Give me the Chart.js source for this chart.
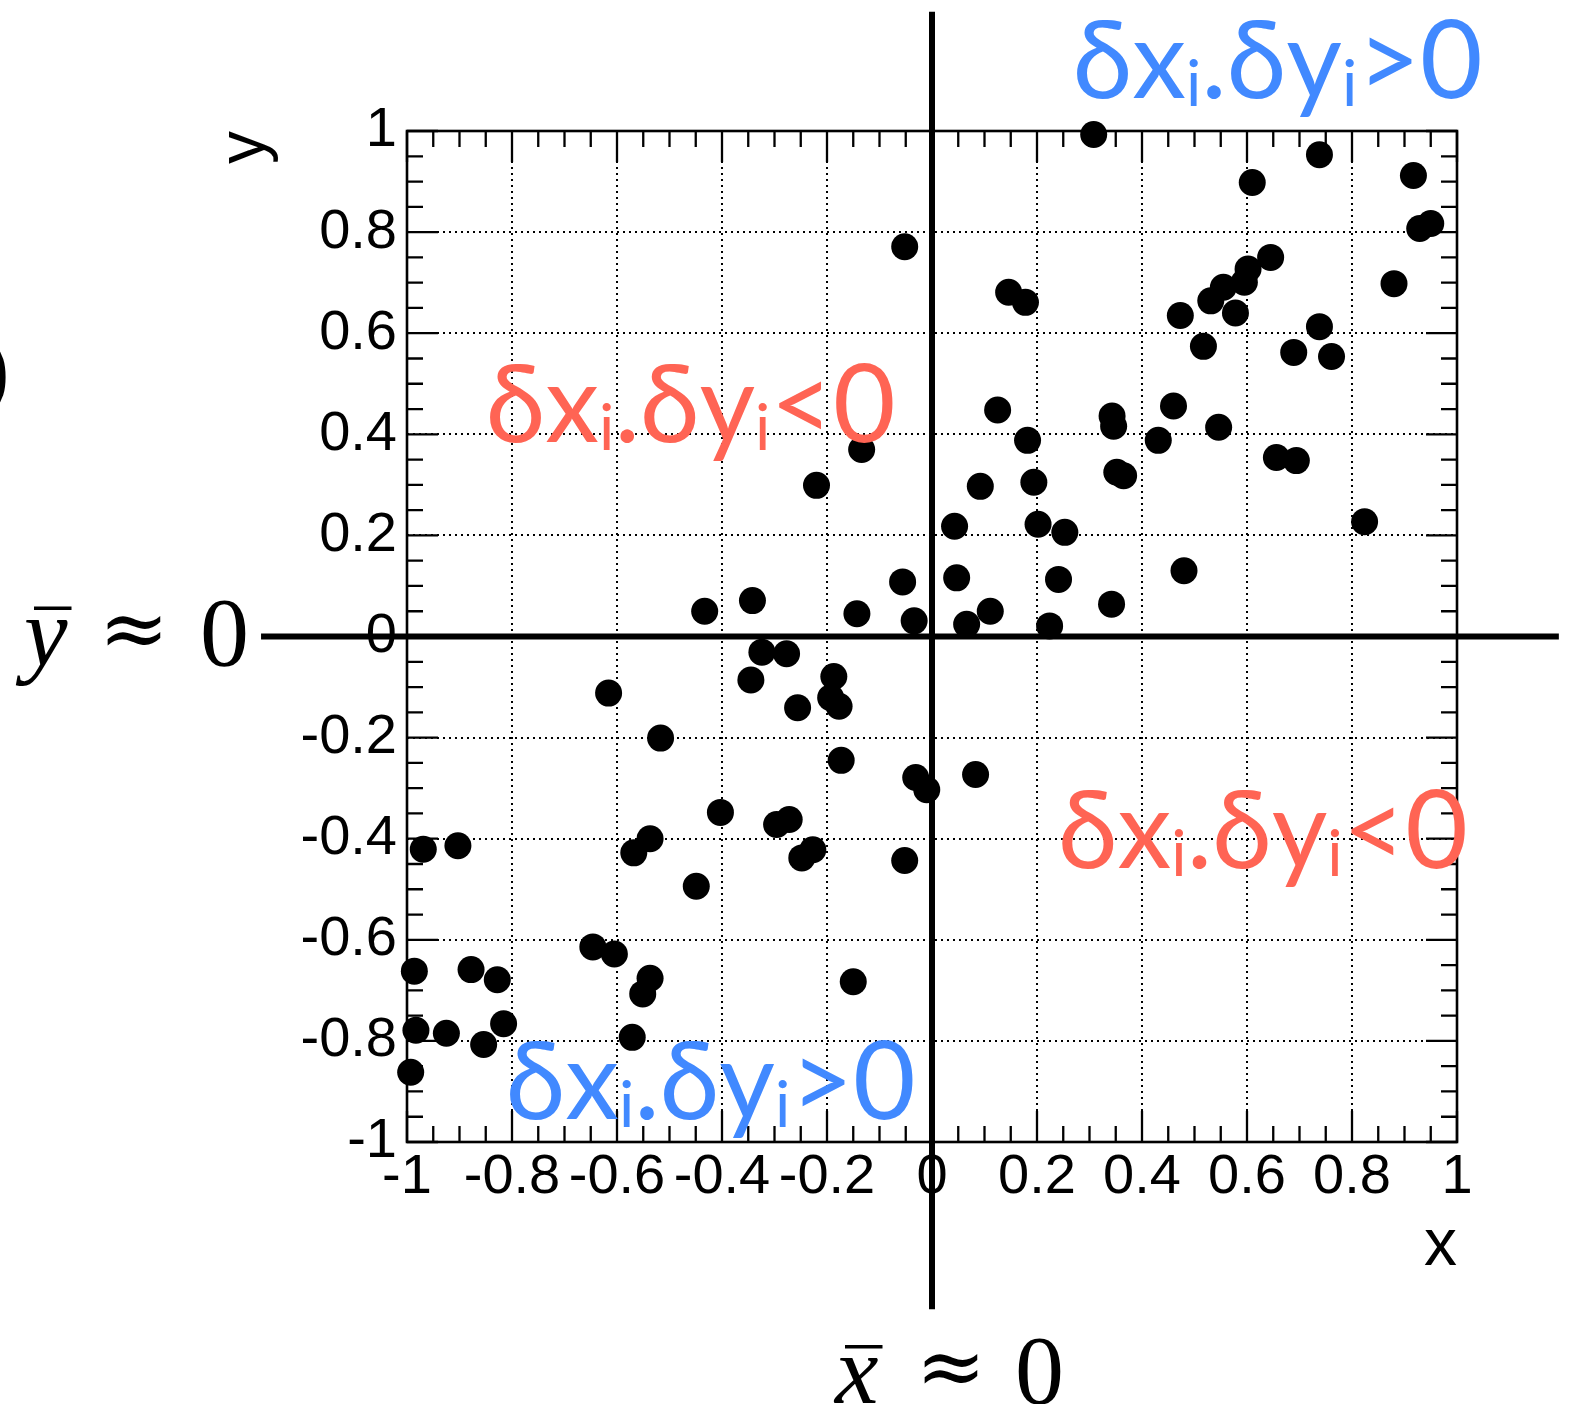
<!DOCTYPE html>
<html>
<head>
<meta charset="utf-8">
<script src="https://cdn.jsdelivr.net/npm/chart.js@4.4.1/dist/chart.umd.min.js"></script>
<style>
    html, body { margin: 0; padding: 0; background: #fff; }
    #wrap { width: 1574px; height: 1404px; position: relative; }
</style>
</head>
<body>
<div id="wrap"><canvas id="scatterChart" width="1574" height="1404"></canvas></div>
<script>
// ==================== DONNEES ====================
const pointX = [
    0.308, 0.738, 0.610, 0.917, 0.929, 0.950, 0.645, 0.602, 0.595, 0.555,
    0.531, 0.578, 0.473, 0.517, 0.738, 0.689, 0.761, 0.880, 0.146, 0.178,
    0.125, 0.182, 0.343, 0.346, 0.352, 0.365, 0.092, 0.194, 0.460, 0.431,
    0.546, 0.656, 0.694, 0.824, 0.043, 0.202, 0.253, 0.047, 0.241, 0.480,
    0.342, 0.111, 0.066, 0.224,
    -0.052, -0.134, -0.220, -0.433, -0.342, -0.143, -0.056, -0.034,
    -0.324, -0.277, -0.345, -0.616, -0.187, -0.193, -0.177, -0.256, -0.517, -0.173,
    -0.031, -0.010, -0.403, -0.296, -0.272, -0.568, -0.537, -0.248, -0.227, -0.449,
    -0.052, -0.969, -0.903, -0.646, -0.605, -0.537, -0.551, -0.150, -0.986, -0.878,
    -0.828, -0.983, -0.925, -0.854, -0.816, -0.571, -0.993,
    0.083
];
const pointY = [
    0.993, 0.953, 0.898, 0.912, 0.807, 0.817, 0.750, 0.727, 0.701, 0.691,
    0.664, 0.640, 0.635, 0.574, 0.613, 0.562, 0.554, 0.698, 0.681, 0.661,
    0.448, 0.388, 0.436, 0.416, 0.325, 0.318, 0.297, 0.305, 0.456, 0.388,
    0.414, 0.354, 0.348, 0.227, 0.218, 0.222, 0.206, 0.116, 0.113, 0.130,
    0.064, 0.050, 0.024, 0.021,
    0.771, 0.370, 0.299, 0.050, 0.071, 0.045, 0.108, 0.031,
    -0.031, -0.034, -0.086, -0.112, -0.079, -0.121, -0.138, -0.141, -0.201, -0.245,
    -0.279, -0.303, -0.348, -0.372, -0.362, -0.428, -0.400, -0.438, -0.422, -0.494,
    -0.443, -0.421, -0.414, -0.614, -0.628, -0.676, -0.707, -0.683, -0.662, -0.659,
    -0.679, -0.779, -0.785, -0.807, -0.766, -0.793, -0.862,
    -0.273
];
const axisTicks = [-1, -0.8, -0.6, -0.4, -0.2, 0, 0.2, 0.4, 0.6, 0.8, 1];
const tickLabels = ['-1', '-0.8', '-0.6', '-0.4', '-0.2', '0', '0.2', '0.4', '0.6', '0.8', '1'];
const minorStep = 0.05;

const BLUE = '#4189ff';
const RED = '#ff6454';
const LABEL_FONT = '"Liberation Sans", Arial, Helvetica, sans-serif';
const NOTE_FONT = 'Lato, "Open Sans", "Noto Sans", sans-serif';
const MATH_FONT = '"Liberation Serif", "DejaVu Serif", serif';

// ==================== DECOR ====================
function drawFrameTicks(chart) {
    const { ctx, chartArea: a, scales: { x, y } } = chart;
    ctx.save();
    ctx.strokeStyle = '#000';
    ctx.lineWidth = 2.3;
    ctx.beginPath();
    const n = Math.round(2 / minorStep);
    for (let i = 0; i <= n; i++) {
        const v = -1 + i * minorStep;
        const len = (i % 4 === 0) ? 31 : 16;
        const px = x.getPixelForValue(v);
        const py = y.getPixelForValue(v);
        ctx.moveTo(px, a.bottom); ctx.lineTo(px, a.bottom - len);
        ctx.moveTo(px, a.top); ctx.lineTo(px, a.top + len);
        ctx.moveTo(a.left, py); ctx.lineTo(a.left + len, py);
        ctx.moveTo(a.right, py); ctx.lineTo(a.right - len, py);
    }
    ctx.stroke();
    ctx.lineWidth = 2.6;
    ctx.strokeRect(a.left, a.top, a.width, a.height);
    ctx.restore();
}

// texte du type  δx_i.δy_i>0
function drawProduct(ctx, x0, y0, sign, color) {
    const big = '108px ' + NOTE_FONT;
    const sub = '64px ' + NOTE_FONT;
    const parts = [
        ['δx', big, 0], ['i', sub, 8], ['.δy', big, 0], ['i', sub, 8], [sign + '0', big, 0]
    ];
    ctx.save();
    ctx.fillStyle = color;
    ctx.textAlign = 'left';
    ctx.textBaseline = 'alphabetic';
    let cx = x0;
    parts.forEach(p => {
        ctx.font = p[1];
        ctx.fillText(p[0], cx, y0 + p[2]);
        cx += ctx.measureText(p[0]).width;
    });
    ctx.restore();
}

// x̄ ≈ 0  /  ȳ ≈ 0
function drawBarEq(ctx, letter, xLetter, xApprox, xZero, base) {
    ctx.save();
    ctx.fillStyle = '#000';
    ctx.textBaseline = 'alphabetic';
    ctx.textAlign = 'left';
    ctx.font = 'italic 98px ' + MATH_FONT;
    ctx.fillText(letter, xLetter, base);
    const w = ctx.measureText(letter).width;
    ctx.fillRect(xLetter + 10, base - 58, w - 6, 3.5);
    ctx.font = '84px "DejaVu Serif", serif';
    ctx.textAlign = 'center';
    ctx.fillText('≈', xApprox, base - 8);
    ctx.font = '98px ' + MATH_FONT;
    ctx.textAlign = 'left';
    ctx.fillText('0', xZero, base);
    ctx.restore();
}

const decorPlugin = {
    id: 'decor',
    beforeDatasetsDraw(chart) {
        drawFrameTicks(chart);
    },
    afterDatasetsDraw(chart) {
        const { ctx, chartArea: a, scales: { x, y } } = chart;
        const x0 = x.getPixelForValue(0);
        const y0 = y.getPixelForValue(0);

        // axes moyennes
        ctx.save();
        ctx.strokeStyle = '#000';
        ctx.lineWidth = 6;
        ctx.beginPath();
        ctx.moveTo(x.getPixelForValue(-1.278), y0);
        ctx.lineTo(x.getPixelForValue(1.194), y0);
        ctx.moveTo(x0, y.getPixelForValue(1.236));
        ctx.lineTo(x0, y.getPixelForValue(-1.331));
        ctx.stroke();
        ctx.restore();

        // titres des axes
        ctx.save();
        ctx.fillStyle = '#000';
        ctx.font = '66px ' + LABEL_FONT;
        ctx.textAlign = 'right';
        ctx.textBaseline = 'alphabetic';
        ctx.fillText('x', a.right, a.bottom + 123);
        ctx.translate(a.left - 143, a.top);
        ctx.rotate(-Math.PI / 2);
        ctx.fillText('y', 0, 0);
        ctx.restore();

        // quadrants
        drawProduct(ctx, x.getPixelForValue(0.268), y.getPixelForValue(1.065), '>', BLUE);
        drawProduct(ctx, x.getPixelForValue(-0.850), y.getPixelForValue(0.385), '<', RED);
        drawProduct(ctx, x.getPixelForValue(0.240), y.getPixelForValue(-0.458), '<', RED);
        drawProduct(ctx, x.getPixelForValue(-0.812), y.getPixelForValue(-0.955), '>', BLUE);

        // moyennes
        drawBarEq(ctx, 'y', 24, 134, 200, y0 + 28);
        drawBarEq(ctx, 'x', x0 - 97, x0 + 19, x0 + 83, 1403);

        // parenthese coupee a gauche
        ctx.save();
        ctx.fillStyle = '#000';
        ctx.font = '92px ' + MATH_FONT;
        ctx.fillText(')', -21, y0 - 238);
        ctx.restore();
    }
};

// ==================== GRAPHIQUE ====================
function buildScale(position) {
    return {
        type: 'linear',
        position: position,
        min: -1,
        max: 1,
        afterBuildTicks: scale => { scale.ticks = axisTicks.map(v => ({ value: v })); },
        afterFit: scale => {
            if (position === 'left') scale.width = 407;
            else scale.height = 262;
        },
        ticks: {
            autoSkip: false,
            maxRotation: 0,
            minRotation: 0,
            padding: position === 'left' ? 10 : 2,
            color: '#000',
            font: { family: LABEL_FONT, size: 56 },
            callback: (value, index) => tickLabels[index]
        },
        grid: {
            drawTicks: false,
            lineWidth: 2,
            color: ctx => (ctx.tick && Math.abs(ctx.tick.value) > 0.99) ? 'rgba(0,0,0,0)' : '#000'
        },
        border: { display: false, dash: [2, 4] }
    };
}

const scatterChart = new Chart(document.getElementById('scatterChart'), {
    type: 'scatter',
    data: {
        datasets: [{
            data: pointX.map((v, i) => ({ x: v, y: pointY[i] })),
            backgroundColor: '#000',
            borderColor: '#000',
            borderWidth: 0,
            pointRadius: 13.5,
            pointHoverRadius: 13.5,
            clip: false
        }]
    },
    options: {
        responsive: false,
        animation: false,
        devicePixelRatio: 1,
        layout: { padding: { left: 0, right: 117, top: 131, bottom: 0 } },
        plugins: {
            legend: { display: false },
            tooltip: { enabled: false }
        },
        scales: {
            x: buildScale('bottom'),
            y: buildScale('left')
        }
    },
    plugins: [decorPlugin]
});
</script>
</body>
</html>
